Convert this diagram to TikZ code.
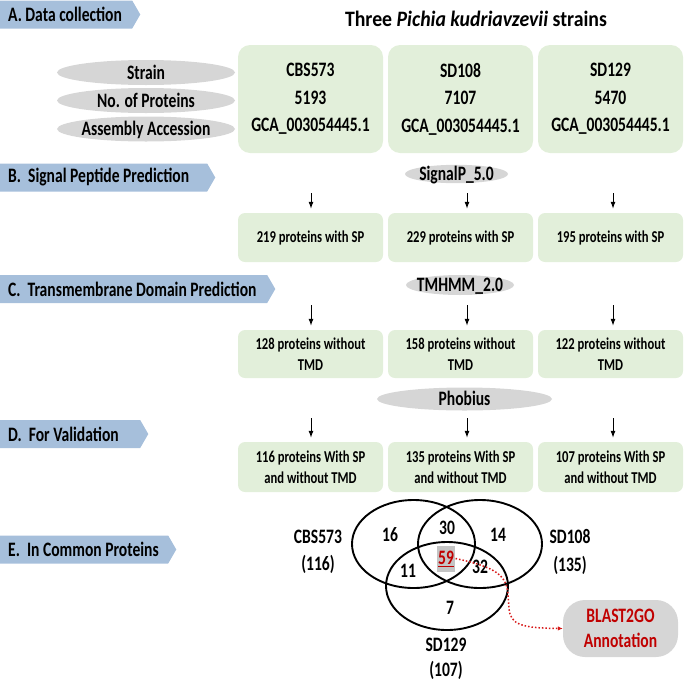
\documentclass[tikz,border=0pt]{standalone}
\usepackage{fontspec}
\setmainfont{Carlito}[FakeStretch=0.76]
\newfontfamily\titlefont{Carlito}[FakeStretch=0.9]
\usetikzlibrary{shapes.geometric,shapes.symbols,arrows.meta}

\definecolor{bannerblue}{RGB}{166,191,219}
\definecolor{boxgreen}{RGB}{226,239,218}
\definecolor{pillgray}{RGB}{214,214,214}
\definecolor{hlgray}{RGB}{196,196,196}
\definecolor{darkred}{RGB}{192,0,0}
\definecolor{dotred}{RGB}{215,25,25}

\newcommand{\bantext}[2]{\makebox[#1][l]{#2}}
\newcommand{\pilltext}[1]{\makebox[0pt]{#1}}

\tikzset{
  banner/.style={signal, signal to=east, signal pointer angle=120,
    fill=bannerblue, minimum height=28pt, inner xsep=8pt, inner ysep=0pt,
    anchor=west, font=\fontsize{20.5}{22}\selectfont\bfseries},
  strainbox/.style={rectangle, rounded corners=12pt, fill=boxgreen,
    minimum width=145pt, minimum height=108pt, align=center,
    font=\fontsize{20.5}{27.5}\selectfont\bfseries},
  resbox/.style={rectangle, rounded corners=7pt, fill=boxgreen,
    minimum width=145pt, minimum height=49pt, align=center,
    font=\fontsize{16.6}{21}\selectfont\bfseries},
  pill/.style={ellipse, fill=pillgray, inner sep=0pt, text height=13pt,
    text depth=0pt, font=\fontsize{20.5}{22}\selectfont\bfseries},
  flow/.style={-{Latex[length=7pt,width=5pt]}, line width=1pt, shorten >=4pt},
  venn/.style={line width=1.9pt},
  vlabel/.style={align=center, font=\fontsize{20.5}{27.5}\selectfont\bfseries},
  blastbox/.style={rectangle, rounded corners=22pt, fill=pillgray,
    minimum width=115pt, minimum height=57pt, align=center, text=darkred,
    font=\fontsize{20.5}{25}\selectfont\bfseries},
  hitlink/.style={dotred, dotted, line width=1.5pt,
    -{Latex[length=5pt,width=4.5pt]}},
}

\begin{document}
\begin{tikzpicture}[x=1pt,y=-1pt]
\useasboundingbox (0,0) rectangle (685,683);

% Section banners
\node[banner] (secA) at (0,14.5) {\bantext{116pt}{A. Data collection}};
\node[banner] (secB) at (0,177.5) {\bantext{191pt}{B.\ \ Signal Peptide Prediction}};
\node[banner] (secC) at (0,289) {\bantext{251pt}{C.\ \ Transmembrane Domain Prediction}};
\node[banner] (secD) at (0,434) {\bantext{124pt}{D.\ \ For Validation}};
\node[banner] (secE) at (0,549.5) {\bantext{152pt}{E.\ \ In Common Proteins}};

% Title
\node[anchor=base, font=\titlefont\fontsize{22}{24}\selectfont\bfseries] (title)
  at (476,26.7) {Three \textit{Pichia kudriavzevii} strains};

% Row labels
\node[pill, minimum width=178pt, minimum height=25pt] (strain) at (146,72.5) {\pilltext{Strain}};
\node[pill, minimum width=178pt, minimum height=25pt] (nprot) at (146,100.5) {\pilltext{No. of Proteins}};
\node[pill, minimum width=178pt, minimum height=25pt] (acc) at (146,129) {\pilltext{Assembly Accession}};

% Strains
\node[strainbox] (cbs) at (310.5,99) {CBS573\\5193\\GCA\_003054445.1};
\node[strainbox] (sd108) at (460.5,99) {SD108\\7107\\GCA\_003054445.1};
\node[strainbox] (sd129) at (610.5,99) {SD129\\5470\\GCA\_003054445.1};

% Tools
\node[pill, minimum width=103pt, minimum height=18pt] (signalp) at (456.5,174) {\pilltext{SignalP\_5.0}};
\node[pill, minimum width=108pt, minimum height=20pt] (tmhmm) at (460,285) {\pilltext{TMHMM\_2.0}};
\node[pill, minimum width=175pt, minimum height=23pt] (phobius) at (464.5,399) {\pilltext{Phobius}};

% Results
\node[resbox] (sp1) at (310.5,237.5) {219 proteins with SP};
\node[resbox] (sp2) at (460.5,237.5) {229 proteins with SP};
\node[resbox] (sp3) at (610.5,237.5) {195 proteins with SP};

\node[resbox, minimum height=48pt] (tm1) at (310.5,354) {128 proteins without\\TMD};
\node[resbox, minimum height=48pt] (tm2) at (460.5,354) {158 proteins without\\TMD};
\node[resbox, minimum height=48pt] (tm3) at (610.5,354) {122 proteins without\\TMD};

\node[resbox, minimum height=50pt] (ph1) at (310.5,467) {116 proteins With SP\\and without TMD};
\node[resbox, minimum height=50pt] (ph2) at (460.5,467) {135 proteins With SP\\and without TMD};
\node[resbox, minimum height=50pt] (ph3) at (610.5,467) {107 proteins With SP\\and without TMD};

% Arrows
\foreach \c/\x in {1/311,2/467,3/613}
{
\coordinate (s\c) at (\x,193);
\coordinate (t\c) at (\x,305);
\coordinate (p\c) at (\x,418);
\draw[flow] (s\c) -- (s\c |- sp\c.north);
\draw[flow] (t\c) -- (t\c |- tm\c.north);
\draw[flow] (p\c) -- (p\c |- ph\c.north);
}

% Venn
\coordinate (cA) at (413.5,544);
\coordinate (cB) at (480,544);
\coordinate (cC) at (447,586);
\draw[venn] (cA) ellipse [x radius=61.5pt, y radius=44pt];
\draw[venn] (cB) ellipse [x radius=62pt, y radius=44pt];
\draw[venn] (cC) ellipse [x radius=61pt, y radius=44pt];

\node[vlabel] (lcbs) at (318,552) {CBS573\\(116)};
\node[vlabel] (lsd108) at (570,552) {SD108\\(135)};
\node[vlabel, font=\fontsize{20.5}{25}\selectfont\bfseries] (lsd129) at (446,659) {SD129\\(107)};

\foreach \n/\x/\y in {16/390/535, 30/447/528, 14/498/535, 11/408/571, 32/480/567, 7/450/608}
{
\node[vlabel] (n\n) at (\x,\y) {\n};
}
\node[vlabel, fill=hlgray, text=darkred, inner xsep=1.5pt, minimum height=26pt] (n59)
  at (446,558.5) {\underline{59}};

% Annotation
\node[blastbox] (blast) at (620.5,628.5) {BLAST2GO\\Annotation};
\draw[hitlink] (n59.east) .. controls (495,567) and (507,575) .. (508,595)
  -- (509,608) .. controls (510,625) and (522,628) .. (blast.west);

\end{tikzpicture}
\end{document}
